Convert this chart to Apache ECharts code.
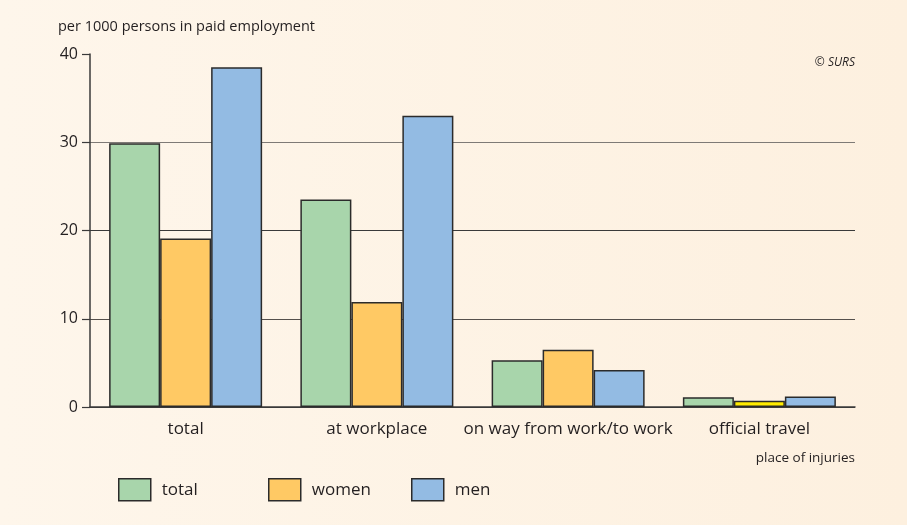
<!DOCTYPE html>
<html>
<head>
<meta charset="utf-8">
<script src="https://cdn.jsdelivr.net/npm/echarts@6/dist/echarts.min.js"></script>
<style>
  html, body { margin: 0; padding: 0; background: #fff8ee; }
  #chart { width: 907px; height: 525px; }
</style>
</head>
<body>
<div id="chart"></div>
<script>
// Injuries at work by place of injury, per 1000 persons in paid employment
const categories = ['total', 'at workplace', 'on way from work/to work', 'official travel'];
const totalValues = [29.9, 23.5, 5.3, 1.1];
const womenValues = [19.1, 11.9, 6.5, 0.7];
const menValues = [38.5, 33.0, 4.2, 1.2];
const yTicks = [0, 10, 20, 30, 40];

const FONT = '"Open Sans", "Noto Sans", sans-serif';
const TEXT = '#231f20';
const EDGE = '#2b2b2b';

const chart = echarts.init(document.getElementById('chart'), null, { renderer: 'canvas' });

function barSeries(name, values, color, overrides) {
  return {
    name: name,
    type: 'bar',
    barGap: '0%',
    barCategoryGap: '20%',
    itemStyle: { color: color, borderColor: EDGE, borderWidth: 1.5 },
    data: values.map((v, i) => (overrides && overrides[i])
      ? { value: v, itemStyle: { color: overrides[i] } }
      : v)
  };
}

function legendFor(name, left) {
  return {
    data: [name],
    left: left,
    top: 478,
    padding: 0,
    itemWidth: 32,
    itemHeight: 22,
    itemGap: 0,
    icon: 'rect',
    textStyle: { fontFamily: FONT, fontSize: 17, color: TEXT, padding: [0, 0, 0, 6] },
    itemStyle: { borderColor: EDGE, borderWidth: 1.5 }
  };
}

chart.setOption({
  backgroundColor: {
    type: 'linear', x: 0, y: 0, x2: 1, y2: 0,
    colorStops: [
      { offset: 0, color: '#fef6eb' },
      { offset: 1, color: '#fdf0df' }
    ]
  },
  animation: false,
  grid: { left: 90, right: 52, top: 54, bottom: 118, containLabel: false },
  title: [
    {
      text: 'per 1000 persons in paid employment',
      left: 58, top: 19, padding: 0,
      textStyle: { fontFamily: FONT, fontSize: 14.5, fontWeight: 'normal', color: TEXT }
    },
    {
      text: '© SURS',
      right: 52, top: 57, padding: 0,
      textStyle: { fontFamily: FONT, fontSize: 12, fontStyle: 'italic', fontWeight: 'normal', color: TEXT }
    },
    {
      text: 'place of injuries',
      right: 52, top: 451, padding: 0,
      textStyle: { fontFamily: FONT, fontSize: 13.5, fontWeight: 'normal', color: TEXT }
    }
  ],
  legend: [
    legendFor('total', 118),
    legendFor('women', 268),
    legendFor('men', 411)
  ],
  xAxis: {
    type: 'category',
    data: categories,
    axisLine: { show: true, lineStyle: { color: '#3a3a3a', width: 1.5 } },
    axisTick: { show: false },
    axisLabel: { interval: 0, fontFamily: FONT, fontSize: 17, color: TEXT, margin: 14 }
  },
  yAxis: {
    type: 'value',
    min: yTicks[0],
    max: yTicks[yTicks.length - 1],
    interval: 10,
    axisLine: { show: true, lineStyle: { color: '#3a3a3a', width: 1.5 } },
    axisTick: { show: true, length: 8, lineStyle: { color: '#3a3a3a', width: 1.2 } },
    axisLabel: { fontFamily: FONT, fontSize: 16, color: TEXT, margin: 12 },
    splitLine: {
      show: true,
      lineStyle: {
        color: ['#3a3a3a', '#55504c', '#3a3a3a', '#7e7a76', 'rgba(0,0,0,0)'],
        width: 1.2
      }
    }
  },
  series: [
    barSeries('total', totalValues, '#a8d5ab'),
    barSeries('women', womenValues, '#ffc964', { 3: '#ffeb00' }),
    barSeries('men', menValues, '#93bbe3')
  ]
});
</script>
</body>
</html>
